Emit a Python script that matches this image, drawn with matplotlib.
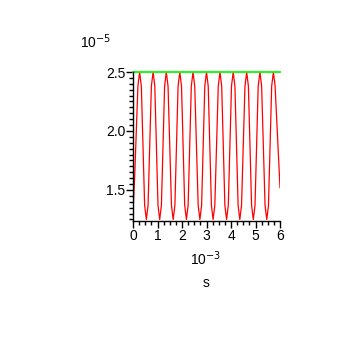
import matplotlib
matplotlib.use("Agg")
import matplotlib.pyplot as plt
from matplotlib.ticker import MultipleLocator

plt.rcParams['font.family'] = ['Liberation Sans', 'DejaVu Sans']

# time in units of 1e-3 s, signal in units of 1e-5
t = [0.0, 0.07, 0.20, 0.27, 0.34, 0.475, 0.545, 0.615,
     0.75, 0.82, 0.89, 1.02, 1.09, 1.16, 1.29, 1.36, 1.43, 1.57, 1.64, 1.71,
     1.84, 1.91, 1.98, 2.11, 2.18, 2.25, 2.38, 2.45, 2.52, 2.66, 2.73, 2.80,
     2.93, 3.0, 3.07, 3.20, 3.27, 3.34, 3.48, 3.55, 3.62, 3.75, 3.82, 3.89,
     4.02, 4.09, 4.16, 4.29, 4.36, 4.43, 4.57, 4.64, 4.71, 4.84, 4.91, 4.98,
     5.11, 5.18, 5.25, 5.39, 5.46, 5.53, 5.66, 5.73, 5.80, 6.0]
signal = [1.31, 1.62, 2.38, 2.5, 2.38, 1.37, 1.25, 1.37,
          2.38, 2.5, 2.38, 1.37, 1.25, 1.37, 2.38, 2.5, 2.38, 1.37, 1.25, 1.37,
          2.38, 2.5, 2.38, 1.37, 1.25, 1.37, 2.38, 2.5, 2.38, 1.37, 1.25, 1.37,
          2.38, 2.5, 2.38, 1.37, 1.25, 1.37, 2.38, 2.5, 2.38, 1.37, 1.25, 1.37,
          2.38, 2.5, 2.38, 1.37, 1.25, 1.37, 2.38, 2.5, 2.38, 1.37, 1.25, 1.37,
          2.38, 2.5, 2.38, 1.37, 1.25, 1.37, 2.38, 2.5, 2.38, 1.52]
limit_t = [0.0, 6.0]
limit = [2.5, 2.5]

fig = plt.figure(figsize=(3.39, 3.39), dpi=100)
ax = fig.add_axes([133 / 339, (339 - 221) / 339, 147 / 339, 149 / 339])

ax.plot(t, signal, color='#ff0000', lw=0.9)
ax.plot(limit_t, limit, color='#00ff00', lw=1.3, clip_on=False)

ax.set_xlim(0, 6)
ax.set_ylim(1.237, 2.5)
ax.spines['top'].set_visible(False)
ax.spines['right'].set_visible(False)
ax.spines['left'].set_linewidth(1.0)
ax.spines['bottom'].set_linewidth(1.0)

ax.xaxis.set_major_locator(MultipleLocator(1))
ax.xaxis.set_minor_locator(MultipleLocator(0.25))
ax.yaxis.set_major_locator(MultipleLocator(0.5))
ax.yaxis.set_minor_locator(MultipleLocator(0.05))
ax.tick_params(which='major', length=5, width=1, labelsize=10, pad=1)
ax.tick_params(which='minor', length=3, width=1)
ax.tick_params(axis='y', which='major', pad=0.5)
ax.set_yticks([1.5, 2.0, 2.5])
ax.set_yticklabels(['1.5', '2.0', '2.5'])

fig.text(80 / 339, 1 - 42 / 339, r'10$^{-5}$', fontsize=10, va='center', ha='left')
fig.text(206 / 339, 1 - 259 / 339, r'10$^{-3}$', fontsize=10, va='center', ha='center')
fig.text(206 / 339, 1 - 283 / 339, 's', fontsize=10, va='center', ha='center')

fig.savefig('out.png', dpi=100)
